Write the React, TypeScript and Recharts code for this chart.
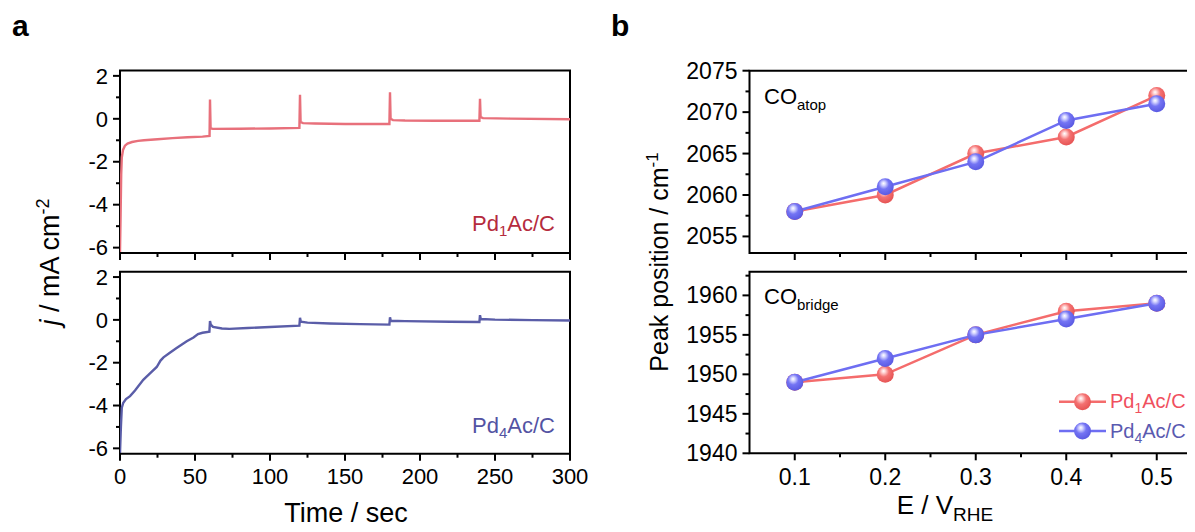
import { LineChart, Line, XAxis, YAxis, ReferenceArea } from 'recharts'

const FONT = '"Liberation Sans", Arial, Helvetica, sans-serif'

// panel a: chronoamperometry, [time s, j mA cm-2]
const PD1_TRANSIENT: [number, number][] = [
  [0, -6.2], [0.4, -4.5], [0.8, -2.6], [1.2, -1.8], [2, -1.45], [3.3, -1.25], [5, -1.15],
  [8, -1.08], [12, -1.03], [16, -1.0], [25, -0.95], [35, -0.9], [45, -0.86], [55, -0.83],
  [59.7, -0.8], [60, 0.9], [60.4, -0.45], [62, -0.47], [80, -0.46], [100, -0.45], [119.6, -0.42],
  [120, 1.12], [120.4, -0.15], [122, -0.2], [130, -0.22], [150, -0.24], [179.6, -0.24],
  [180, 1.24], [180.4, 0.0], [182, -0.06], [190, -0.08], [210, -0.09], [239.6, -0.09],
  [240, 0.93], [240.4, 0.08], [242, 0.03], [260, 0.01], [300, -0.02],
]
const PD4_TRANSIENT: [number, number][] = [
  [0, -6.2], [0.6, -5], [1.2, -4.1], [2.2, -3.87], [4, -3.7], [6.7, -3.56], [10, -3.3],
  [15.5, -2.8], [20, -2.5], [24.5, -2.2], [27, -1.9], [29, -1.75], [33, -1.55], [37.5, -1.33],
  [44.5, -1.0], [49, -0.82], [52, -0.66], [55, -0.6], [59.6, -0.55], [60, -0.05], [60.5, -0.22],
  [62, -0.33], [68, -0.4], [73, -0.42], [85, -0.38], [100, -0.33], [119.6, -0.27], [120, 0.1],
  [120.5, -0.08], [125, -0.13], [140, -0.17], [160, -0.2], [179.6, -0.22], [180, 0.12],
  [180.5, -0.04], [190, -0.06], [220, -0.09], [239.6, -0.1], [240, 0.22], [240.5, 0.04],
  [250, 0.01], [275, -0.01], [300, -0.03],
]
const TIME_MAJOR = [0, 50, 100, 150, 200, 250, 300]
const TIME_MINOR = [25, 75, 125, 175, 225, 275]
const J_MAJOR = [-6, -4, -2, 0, 2]
const J_MINOR = [-5, -3, -1, 1]

// panel b: peak positions vs potential
const POTENTIAL = [0.1, 0.2, 0.3, 0.4, 0.5]
const ATOP_PD1 = [2058, 2060, 2065, 2067, 2072]
const ATOP_PD4 = [2058, 2061, 2064, 2069, 2071]
const BRIDGE_PD1 = [1949, 1950, 1955, 1958, 1959]
const BRIDGE_PD4 = [1949, 1952, 1955, 1957, 1959]
const E_MINOR = [0.15, 0.25, 0.35, 0.45]
const ATOP_MAJOR = [2055, 2060, 2065, 2070, 2075]
const ATOP_MINOR = [2057.5, 2062.5, 2067.5, 2072.5]
const BRIDGE_MAJOR = [1940, 1945, 1950, 1955, 1960]
const BRIDGE_MINOR = [1942.5, 1947.5, 1952.5, 1957.5, 1962.5]

const toRows = (pts: [number, number][]) => pts.map(([t, j]) => ({ t, j }))
const peakRows = (a: number[], b: number[]) =>
  POTENTIAL.map((e, i) => ({ e, pd1: a[i], pd4: b[i] }))

const RED = '#F46C6C'
const BLUE = '#6E6EF2'

function xTick(major: number[], labels: boolean, offset: number, size: number, fmt: (v: number) => string) {
  return (props: any) => {
    const { x, y, payload } = props
    const isMajor = major.includes(payload.value)
    return (
      <g>
        <line x1={x} x2={x} y1={y} y2={y + (isMajor ? 7 : 4)} stroke="#000" strokeWidth={2} />
        {isMajor && labels && (
          <text x={x} y={y + offset} textAnchor="middle" fontSize={size} fontFamily={FONT} fill="#000">
            {fmt(payload.value)}
          </text>
        )}
      </g>
    )
  }
}

function yTick(major: number[], gap: number, size: number) {
  return (props: any) => {
    const { x, y, payload } = props
    const isMajor = major.includes(payload.value)
    return (
      <g>
        <line x1={x - (isMajor ? 7 : 4)} x2={x} y1={y} y2={y} stroke="#000" strokeWidth={2} />
        {isMajor && (
          <text x={x - gap} y={y} dy="0.35em" textAnchor="end" fontSize={size} fontFamily={FONT} fill="#000">
            {String(payload.value)}
          </text>
        )}
      </g>
    )
  }
}

function TransientPanel({ points, color, plotTop, plotBottom, labels }: {
  points: [number, number][]; color: string; plotTop: number; plotBottom: number; labels: boolean
}) {
  const height = 532
  return (
    <div style={{ position: 'absolute', left: 0, top: 0 }}>
      <LineChart width={600} height={height} data={toRows(points)}
        margin={{ top: plotTop, right: 30, bottom: 0, left: 0 }}>
        <XAxis dataKey="t" type="number" domain={[0, 300]} allowDataOverflow
          ticks={[...TIME_MAJOR, ...TIME_MINOR]} interval={0} height={height - plotBottom}
          axisLine={false} tickLine={false} tickSize={0} tickMargin={0}
          tick={xTick(TIME_MAJOR, labels, 30, 22, (v) => String(v))} />
        <YAxis type="number" domain={[-6.25, 2.25]} allowDataOverflow width={120}
          ticks={[...J_MAJOR, ...J_MINOR]} interval={0}
          axisLine={false} tickLine={false} tickSize={0} tickMargin={0}
          tick={yTick(J_MAJOR, 12, 22)} />
        <ReferenceArea x1={0} x2={300} y1={-6.25} y2={2.25} ifOverflow="visible"
          fill="none" stroke="#000" strokeWidth={2} />
        <Line type="linear" dataKey="j" stroke={color} strokeWidth={2.4} dot={false}
          isAnimationActive={false} />
      </LineChart>
    </div>
  )
}

function sphereDot(grad: string) {
  return (props: any) => (
    <circle key={`d${props.index}`} cx={props.cx} cy={props.cy} r={8.5} fill={`url(#${grad})`} />
  )
}

function PeakPanel({ a, b, domain, major, minor, plotTop, plotBottom, labels }: {
  a: number[]; b: number[]; domain: [number, number]; major: number[]; minor: number[]
  plotTop: number; plotBottom: number; labels: boolean
}) {
  const height = 532
  return (
    <div style={{ position: 'absolute', left: 600, top: 0 }}>
      <LineChart width={620} height={height} data={peakRows(a, b)}
        margin={{ top: plotTop, right: 18, bottom: 0, left: 0 }}>
        <XAxis dataKey="e" type="number" domain={[0.05, 0.55]} allowDataOverflow
          ticks={[...POTENTIAL, ...E_MINOR]} interval={0} height={height - plotBottom}
          axisLine={false} tickLine={false} tickSize={0} tickMargin={0}
          tick={xTick(POTENTIAL, labels, 32, 23, (v) => v.toFixed(1))} />
        <YAxis type="number" domain={domain} allowDataOverflow width={149.5}
          ticks={[...major, ...minor]} interval={0}
          axisLine={false} tickLine={false} tickSize={0} tickMargin={0}
          tick={yTick(major, 12, 23)} />
        <ReferenceArea x1={0.05} x2={0.55} y1={domain[0]} y2={domain[1]} ifOverflow="visible"
          fill="none" stroke="#000" strokeWidth={2} />
        <Line type="linear" dataKey="pd1" stroke={RED} strokeWidth={2.5}
          dot={sphereDot('sphereRed')} activeDot={false} isAnimationActive={false} />
        <Line type="linear" dataKey="pd4" stroke={BLUE} strokeWidth={2.5}
          dot={sphereDot('sphereBlue')} activeDot={false} isAnimationActive={false} />
      </LineChart>
    </div>
  )
}

function Overlay() {
  const t = { fontFamily: FONT, fill: '#000' }
  return (
    <svg width={1195} height={532} style={{ position: 'absolute', left: 0, top: 0, pointerEvents: 'none' }}>
      <defs>
        <radialGradient id="sphereRed" cx="42%" cy="38%" r="62%" fx="40%" fy="30%">
          <stop offset="0%" stopColor="#ffffff" />
          <stop offset="18%" stopColor="#ffd2d2" />
          <stop offset="50%" stopColor="#F47272" />
          <stop offset="100%" stopColor="#E65454" />
        </radialGradient>
        <radialGradient id="sphereBlue" cx="42%" cy="38%" r="62%" fx="40%" fy="30%">
          <stop offset="0%" stopColor="#ffffff" />
          <stop offset="18%" stopColor="#d6d6ff" />
          <stop offset="50%" stopColor="#7474F4" />
          <stop offset="100%" stopColor="#5A5AE2" />
        </radialGradient>
      </defs>

      <text x={12} y={36} fontSize={30} fontWeight="bold" {...t}>a</text>
      <text x={611} y={36} fontSize={30} fontWeight="bold" {...t}>b</text>

      <text x={555} y={231} textAnchor="end" fontSize={22} fontFamily={FONT} fill="#B52B3D">
        Pd<tspan fontSize={15} dy={5}>1</tspan><tspan dy={-5}>Ac/C</tspan>
      </text>
      <text x={555} y={433} textAnchor="end" fontSize={22} fontFamily={FONT} fill="#5353A3">
        Pd<tspan fontSize={15} dy={5}>4</tspan><tspan dy={-5}>Ac/C</tspan>
      </text>

      <text x={346} y={522} textAnchor="middle" fontSize={27} {...t}>Time / sec</text>
      <text x={59} y={262} textAnchor="middle" fontSize={27} transform="rotate(-90 59 262)" {...t}>
        <tspan fontStyle="italic">j</tspan> / mA cm<tspan fontSize={18} dy={-10}>-2</tspan>
      </text>

      <text x={764} y={104} fontSize={22} {...t}>
        CO<tspan fontSize={15} dy={6}>atop</tspan>
      </text>
      <text x={764} y={304} fontSize={22} {...t}>
        CO<tspan fontSize={15} dy={6}>bridge</tspan>
      </text>

      <text x={945} y={514} textAnchor="middle" fontSize={26} {...t}>
        E / V<tspan fontSize={19} dy={7}>RHE</tspan>
      </text>
      <text x={668} y={262} textAnchor="middle" fontSize={25} transform="rotate(-90 668 262)" {...t}>
        Peak position / cm<tspan fontSize={17} dy={-10}>-1</tspan>
      </text>

      <line x1={1059} x2={1106} y1={401.7} y2={401.7} stroke={RED} strokeWidth={2.5} />
      <circle cx={1082.5} cy={401.7} r={8.5} fill="url(#sphereRed)" />
      <text x={1110} y={408} fontSize={20} fontFamily={FONT} fill="#F0505E">
        Pd<tspan fontSize={14} dy={5}>1</tspan><tspan dy={-5}>Ac/C</tspan>
      </text>
      <line x1={1059} x2={1106} y1={431} y2={431} stroke={BLUE} strokeWidth={2.5} />
      <circle cx={1082.5} cy={431} r={8.5} fill="url(#sphereBlue)" />
      <text x={1110} y={437.5} fontSize={20} fontFamily={FONT} fill="#5A5AB0">
        Pd<tspan fontSize={14} dy={5}>4</tspan><tspan dy={-5}>Ac/C</tspan>
      </text>
    </svg>
  )
}

export default function App() {
  return (
    <div style={{ position: 'relative', width: 1195, height: 532, margin: -8, overflow: 'hidden', background: '#fff', fontFamily: FONT }}>
      <TransientPanel points={PD1_TRANSIENT} color="#E8707B" plotTop={70.5} plotBottom={253} labels={false} />
      <TransientPanel points={PD4_TRANSIENT} color="#5A5DA8" plotTop={271.7} plotBottom={453.7} labels />
      <PeakPanel a={ATOP_PD1} b={ATOP_PD4} domain={[2053, 2075]} major={ATOP_MAJOR} minor={ATOP_MINOR}
        plotTop={70.7} plotBottom={253} labels={false} />
      <PeakPanel a={BRIDGE_PD1} b={BRIDGE_PD4} domain={[1940, 1963]} major={BRIDGE_MAJOR} minor={BRIDGE_MINOR}
        plotTop={271.7} plotBottom={453.3} labels />
      <Overlay />
    </div>
  )
}
